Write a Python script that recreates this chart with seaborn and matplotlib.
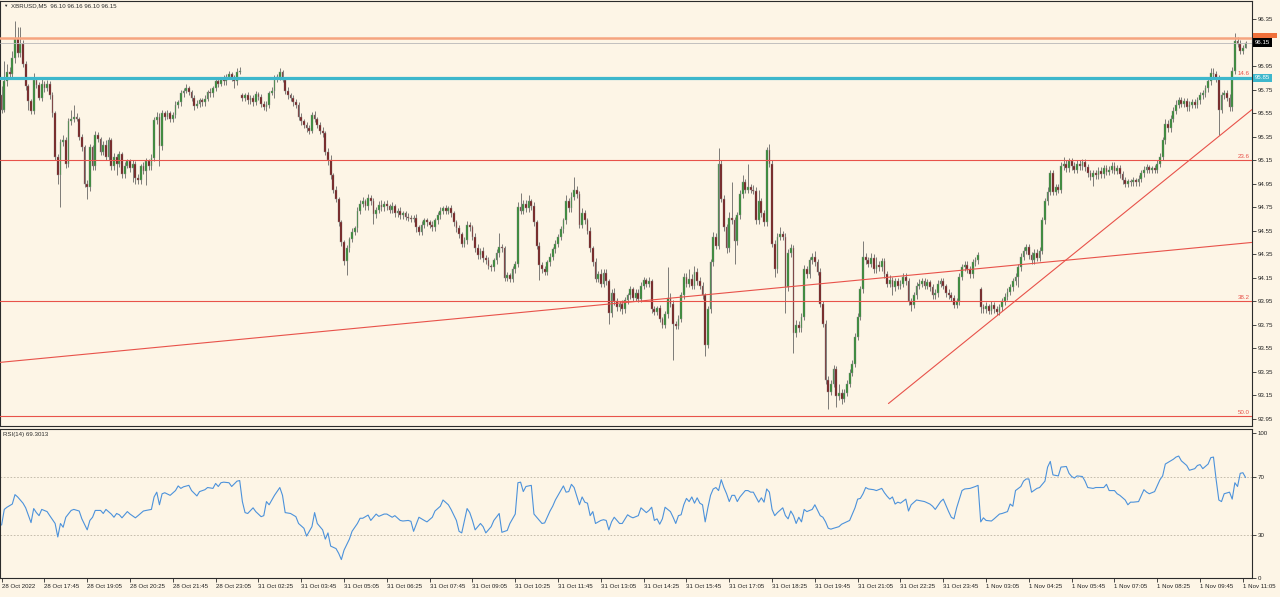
# XBRUSD M5 chart with RSI(14) sub-window, MetaTrader look

import numpy as np
import pandas as pd
import matplotlib
matplotlib.use("Agg")
import matplotlib.pyplot as plt
import matplotlib.transforms as mtransforms
from matplotlib.patches import Rectangle
import seaborn as sns

#-----------------------------------------------------------------
# values (one candle per 5 minutes)

closes = [
    95.58, 95.82, 95.90, 95.88, 96.02, 96.18, 96.06, 96.14, 95.97, 95.78,
    95.65, 95.57, 95.83, 95.79, 95.68, 95.80, 95.76, 95.80, 95.70, 95.55,
    95.18, 95.02, 95.30, 95.32, 95.12, 95.48, 95.50, 95.52, 95.50, 95.35,
    95.26, 94.95, 94.92, 95.26, 95.10, 95.36, 95.33, 95.22, 95.28, 95.18,
    95.32, 95.10, 95.18, 95.12, 95.20, 95.03, 95.10, 95.14, 95.08, 95.12,
    95.00, 94.98, 95.10, 95.06, 95.14, 95.10, 95.17, 95.49, 95.52, 95.27,
    95.55, 95.52, 95.55, 95.50, 95.53, 95.62, 95.64, 95.72, 95.74, 95.76,
    95.73, 95.68, 95.61, 95.63, 95.66, 95.64, 95.67, 95.73, 95.72, 95.76,
    95.82, 95.80, 95.84, 95.82, 95.86, 95.88, 95.85, 95.82, 95.90, 95.91,
    95.68, 95.70, 95.66, 95.68, 95.64, 95.71, 95.69, 95.63, 95.60, 95.62,
    95.72, 95.74, 95.84, 95.86, 95.90, 95.83, 95.74, 95.70, 95.68, 95.64,
    95.62, 95.52, 95.48, 95.45, 95.42, 95.40, 95.53, 95.50, 95.45, 95.40,
    95.38, 95.22, 95.15, 95.02, 94.90, 94.82, 94.62, 94.45, 94.29, 94.40,
    94.48, 94.54, 94.57, 94.72, 94.78, 94.80, 94.76, 94.83, 94.80, 94.69,
    94.73, 94.77, 94.75, 94.78, 94.76, 94.73, 94.76, 94.70, 94.72, 94.68,
    94.70, 94.67, 94.66, 94.65, 94.66, 94.58, 94.54, 94.60, 94.64, 94.62,
    94.60, 94.58, 94.64, 94.68, 94.72, 94.74, 94.72, 94.74, 94.70, 94.62,
    94.57, 94.52, 94.44, 94.47, 94.60, 94.58, 94.50, 94.40, 94.34, 94.38,
    94.32, 94.30, 94.25, 94.24, 94.30, 94.36, 94.41, 94.40, 94.15, 94.17,
    94.14, 94.22, 94.27, 94.75, 94.72, 94.78, 94.74, 94.80, 94.76, 94.62,
    94.42, 94.26, 94.22, 94.20, 94.28, 94.33, 94.39, 94.44, 94.50, 94.56,
    94.64, 94.80, 94.74, 94.84, 94.90, 94.86, 94.60, 94.70, 94.64, 94.55,
    94.40, 94.28, 94.14, 94.18, 94.10, 94.19, 94.12, 93.85, 94.02, 93.95,
    93.90, 93.93, 93.88, 93.96, 94.00, 94.05, 93.98, 94.02, 93.97, 94.08,
    94.13, 94.10, 94.12, 93.88, 93.86, 93.89, 93.80, 93.75, 93.84, 93.98,
    93.93, 93.76, 93.74, 93.80, 94.00, 94.16, 94.10, 94.14, 94.08, 94.20,
    94.12, 94.08, 94.00, 93.58, 93.88, 94.28, 94.50, 94.42, 95.12, 94.82,
    94.58, 94.40, 94.66, 94.64, 94.46, 94.68, 94.86, 94.96, 94.90, 94.92,
    94.90, 94.89, 94.64, 94.80, 94.70, 94.62, 95.24, 95.12, 94.44, 94.22,
    94.50, 94.52, 94.50, 94.07, 94.36, 94.40, 93.68, 93.75, 93.72, 93.82,
    94.22, 94.18, 94.30, 94.33, 94.28, 94.20, 93.93, 93.76, 93.28, 93.18,
    93.25, 93.37, 93.14, 93.17, 93.12, 93.17, 93.25, 93.34, 93.42, 93.65,
    93.82, 94.05, 94.33, 94.30, 94.27, 94.32, 94.22, 94.26, 94.24, 94.29,
    94.18, 94.10, 94.13, 94.07, 94.12, 94.08, 94.10, 94.16, 94.12, 93.95,
    93.92, 94.00, 94.08, 94.10, 94.12, 94.08, 94.11, 94.07, 94.00, 94.02,
    94.10, 94.12, 94.08, 94.02, 94.00, 93.98, 93.92, 93.95, 94.16, 94.24,
    94.26, 94.22, 94.18, 94.28, 94.30, 94.34, 93.90, 93.88, 93.91, 93.87,
    93.92, 93.88, 93.86, 93.90, 93.95, 93.99, 94.03, 94.07, 94.12, 94.16,
    94.24, 94.33, 94.38, 94.41, 94.34, 94.30, 94.36, 94.32, 94.38, 94.64,
    94.80, 94.88, 95.04, 94.88, 94.92, 94.90, 95.10, 95.12, 95.08, 95.14,
    95.10, 95.07, 95.12, 95.10, 95.13, 95.09, 95.04, 95.01, 95.04, 95.02,
    95.06, 95.03, 95.08, 95.05, 95.07, 95.10, 95.06, 95.08, 95.03, 94.98,
    94.95, 94.97, 94.96, 94.98, 94.96, 94.99, 95.04, 95.07, 95.09, 95.07,
    95.08, 95.07, 95.12, 95.18, 95.32, 95.46, 95.42, 95.50, 95.57, 95.62,
    95.66, 95.63, 95.65, 95.60, 95.62, 95.64, 95.62, 95.66, 95.70, 95.72,
    95.76, 95.82, 95.89, 95.88, 95.84, 95.58, 95.70, 95.72, 95.68, 95.60,
    95.91, 96.16, 96.14, 96.08, 96.10, 96.15,
]

# wick length beyond the body, in cents
up_wick = [
    8, 17, 7, 4, 6, 15, 10, 14, 3, 2,
    2, 2, 6, 3, 2, 4, 2, 3, 2, 3,
    2, 2, 3, 4, 3, 3, 8, 10, 3, 2,
    2, 2, 3, 3, 2, 4, 3, 2, 3, 4,
    3, 2, 3, 2, 3, 2, 3, 2, 2, 3,
    2, 3, 2, 3, 3, 2, 3, 3, 4, 3,
    3, 2, 3, 2, 3, 3, 2, 3, 2, 4,
    2, 2, 2, 3, 2, 2, 3, 2, 3, 2,
    3, 2, 2, 3, 2, 3, 2, 2, 3, 3,
    2, 2, 3, 2, 2, 3, 2, 2, 2, 3,
    2, 3, 3, 2, 3, 2, 2, 3, 2, 2,
    3, 2, 3, 2, 2, 3, 3, 4, 2, 2,
    3, 2, 3, 4, 2, 3, 2, 2, 2, 3,
    2, 3, 2, 3, 3, 4, 2, 3, 2, 3,
    2, 3, 4, 2, 3, 2, 3, 2, 2, 3,
    2, 2, 3, 2, 2, 3, 2, 3, 2, 2,
    2, 3, 2, 3, 3, 2, 3, 2, 3, 2,
    2, 3, 2, 3, 3, 2, 2, 3, 4, 2,
    3, 2, 3, 2, 2, 3, 12, 3, 2, 3,
    2, 3, 2, 4, 12, 3, 3, 5, 2, 3,
    2, 3, 2, 3, 2, 3, 2, 3, 2, 3,
    2, 5, 3, 4, 11, 3, 3, 4, 3, 2,
    3, 2, 4, 3, 4, 3, 3, 2, 3, 4,
    3, 2, 3, 3, 2, 3, 2, 3, 3, 3,
    3, 2, 4, 2, 3, 2, 3, 2, 3, 26,
    4, 3, 2, 3, 3, 3, 3, 8, 4, 5,
    3, 4, 3, 2, 3, 3, 4, 3, 13, 3,
    3, 3, 5, 30, 3, 3, 4, 6, 3, 20,
    3, 4, 3, 10, 3, 3, 2, 5, 3, 3,
    3, 6, 3, 3, 3, 4, 3, 4, 3, 3,
    4, 3, 3, 3, 5, 3, 3, 2, 3, 3,
    3, 4, 3, 8, 3, 3, 3, 3, 3, 3,
    3, 3, 13, 3, 3, 4, 3, 7, 3, 3,
    3, 3, 4, 3, 3, 3, 3, 3, 3, 3,
    3, 3, 3, 4, 3, 3, 3, 2, 3, 3,
    3, 3, 3, 2, 3, 3, 2, 3, 3, 3,
    3, 3, 3, 3, 3, 3, 2, 3, 3, 2,
    3, 2, 3, 3, 3, 3, 3, 3, 3, 3,
    3, 3, 3, 3, 3, 3, 3, 3, 3, 3,
    3, 4, 3, 3, 3, 3, 3, 6, 3, 3,
    3, 3, 3, 3, 3, 3, 3, 3, 3, 3,
    3, 3, 3, 3, 3, 3, 3, 3, 3, 3,
    3, 2, 2, 3, 2, 3, 3, 3, 3, 2,
    2, 3, 3, 3, 3, 4, 3, 3, 3, 4,
    3, 3, 3, 3, 3, 3, 3, 3, 3, 3,
    3, 3, 4, 4, 3, 3, 3, 3, 3, 3,
    3, 7, 4, 3, 3, 1,
]

down_wick = [
    3, 2, 4, 3, 3, 4, 3, 3, 3, 3,
    7, 3, 3, 3, 2, 3, 3, 2, 3, 3,
    3, 7, 27, 3, 4, 3, 3, 3, 2, 3,
    3, 3, 10, 3, 3, 3, 3, 3, 3, 3,
    3, 3, 3, 10, 3, 3, 3, 2, 3, 12,
    5, 3, 3, 3, 12, 3, 3, 3, 3, 17,
    3, 3, 2, 3, 3, 2, 3, 3, 3, 2,
    3, 3, 3, 2, 3, 3, 3, 2, 3, 3,
    2, 3, 2, 3, 3, 2, 3, 6, 3, 2,
    3, 3, 3, 3, 3, 2, 3, 3, 2, 3,
    3, 2, 6, 3, 3, 2, 3, 3, 3, 3,
    3, 3, 3, 3, 3, 3, 2, 3, 3, 3,
    3, 3, 4, 3, 3, 3, 3, 3, 3, 12,
    3, 3, 3, 3, 3, 3, 3, 3, 3, 8,
    3, 3, 3, 3, 3, 3, 3, 3, 3, 3,
    3, 3, 3, 3, 3, 4, 3, 3, 3, 3,
    3, 3, 3, 3, 3, 3, 3, 3, 3, 3,
    3, 3, 3, 3, 3, 3, 3, 3, 3, 3,
    4, 3, 3, 3, 3, 3, 3, 3, 3, 3,
    3, 3, 3, 3, 3, 3, 3, 3, 3, 3,
    3, 13, 3, 3, 3, 3, 3, 3, 3, 3,
    3, 3, 3, 3, 3, 3, 3, 3, 3, 3,
    3, 3, 3, 3, 3, 3, 3, 9, 3, 3,
    3, 3, 4, 3, 3, 3, 3, 3, 3, 3,
    3, 3, 3, 3, 3, 3, 3, 3, 3, 3,
    3, 31, 3, 3, 3, 3, 3, 3, 3, 3,
    3, 3, 3, 10, 3, 3, 3, 3, 3, 3,
    3, 4, 3, 3, 19, 3, 3, 3, 3, 3,
    3, 3, 3, 3, 3, 3, 3, 3, 3, 6,
    3, 3, 3, 22, 3, 3, 17, 3, 3, 3,
    3, 3, 3, 3, 3, 3, 3, 3, 3, 15,
    3, 3, 9, 3, 4, 3, 3, 3, 3, 3,
    3, 3, 3, 3, 3, 3, 3, 3, 3, 3,
    3, 3, 3, 7, 3, 3, 3, 3, 3, 3,
    5, 3, 3, 3, 3, 3, 3, 3, 3, 3,
    3, 3, 3, 3, 3, 3, 3, 3, 3, 3,
    3, 3, 3, 3, 3, 3, 5, 3, 3, 3,
    3, 3, 3, 3, 3, 3, 3, 3, 3, 3,
    9, 3, 3, 3, 3, 3, 3, 3, 3, 3,
    3, 3, 3, 3, 3, 3, 3, 3, 3, 3,
    3, 3, 3, 3, 3, 3, 3, 3, 8, 3,
    3, 3, 3, 3, 3, 3, 3, 3, 3, 3,
    3, 3, 3, 3, 3, 3, 3, 3, 3, 3,
    3, 3, 3, 3, 3, 3, 3, 3, 3, 3,
    3, 3, 3, 3, 3, 3, 3, 3, 3, 3,
    3, 3, 3, 3, 3, 22, 3, 3, 3, 3,
    3, 3, 3, 3, 3, 0,
]

# bars whose open is not the previous close (start, weekend, session break)
gap_opens = {0: 95.70, 90: 95.70, 366: 94.05}

rsi_bars = [
    0, 1, 2, 4, 5, 6, 8, 9, 11, 12, 13, 14, 15, 17, 18, 20, 21, 22, 23, 24,
    26, 27, 29, 30, 32, 33, 34, 35, 37, 38, 39, 41, 42, 43, 44, 45, 47, 48, 50, 51,
    53, 54, 56, 57, 58, 59, 60, 61, 63, 65, 66, 67, 68, 70, 71, 73, 74, 76, 77, 79,
    80, 81, 82, 83, 85, 86, 88, 89, 90, 91, 92, 94, 95, 97, 98, 99, 100, 102, 104, 105,
    106, 108, 110, 111, 113, 114, 116, 117, 118, 120, 121, 122, 123, 125, 126, 127, 128, 130, 131, 133,
    134, 135, 137, 138, 140, 141, 143, 144, 146, 147, 149, 150, 152, 153, 154, 156, 158, 159, 161, 162,
    164, 165, 167, 168, 170, 171, 172, 174, 175, 176, 177, 179, 180, 181, 183, 184, 186, 187, 189, 190,
    192, 193, 194, 195, 196, 198, 199, 201, 202, 203, 205, 206, 207, 209, 210, 211, 212, 213, 214, 216,
    217, 218, 219, 220, 221, 222, 224, 225, 226, 227, 228, 229, 231, 232, 234, 235, 236, 238, 239, 241,
    242, 243, 244, 245, 246, 247, 248, 250, 251, 252, 253, 254, 255, 256, 257, 258, 259, 260, 261, 262,
    263, 264, 265, 266, 267, 268, 269, 270, 271, 272, 273, 274, 275, 276, 278, 279, 280, 281, 283, 284,
    285, 286, 287, 288, 289, 290, 292, 293, 294, 295, 296, 297, 298, 299, 300, 301, 303, 304, 306, 307,
    308, 309, 310, 311, 313, 314, 317, 319, 320, 321, 322, 323, 324, 326, 327, 329, 330, 331, 332, 333,
    334, 335, 336, 338, 339, 340, 342, 344, 345, 347, 348, 349, 351, 352, 354, 355, 356, 357, 359, 360,
    362, 364, 365, 366, 367, 368, 370, 371, 373, 374, 376, 377, 378, 379, 381, 382, 383, 384, 385, 387,
    388, 390, 391, 392, 393, 395, 396, 398, 399, 400, 401, 402, 404, 405, 406, 408, 409, 411, 412, 413,
    414, 416, 417, 418, 420, 421, 422, 423, 425, 427, 428, 429, 431, 433, 434, 435, 437, 438, 439, 440,
    441, 443, 444, 446, 447, 448, 449, 451, 452, 453, 454, 455, 456, 457, 459, 460, 461, 462, 463, 464,
    465,
]

rsi_values = [
    36.5, 47.3, 48.8, 51.0, 57.5, 55.9, 51.6, 48.4, 38.2, 47.9, 45.1, 43.0, 47.3, 45.8, 43.0, 37.6, 28.3, 37.6, 35.0, 41.9,
    46.6, 47.3, 46.2, 40.8, 33.2, 39.7, 41.9, 46.6, 46.6, 44.5, 47.3, 44.1, 41.9, 44.5, 43.6, 41.5, 45.8, 44.1, 41.5, 43.0,
    46.2, 46.6, 47.3, 55.9, 59.2, 50.5, 58.1, 58.8, 57.0, 60.3, 63.5, 61.8, 62.9, 63.9, 60.3, 56.6, 59.6, 60.9, 62.4, 61.8,
    65.2, 63.1, 65.7, 66.1, 65.7, 63.1, 66.8, 67.2, 52.7, 45.1, 44.5, 48.4, 45.8, 42.3, 43.0, 52.7, 50.5, 57.0, 62.4, 57.0,
    45.1, 44.5, 42.3, 37.6, 34.3, 28.9, 35.4, 45.1, 37.6, 33.2, 26.8, 31.1, 22.0, 20.3, 17.0, 12.7, 19.2, 26.8, 32.2, 37.6,
    41.2, 41.2, 43.4, 39.7, 44.1, 42.5, 44.1, 44.1, 41.9, 43.0, 39.7, 39.3, 39.7, 39.1, 32.2, 41.9, 39.7, 38.7, 41.9, 46.2,
    49.5, 53.8, 50.5, 47.3, 39.7, 32.2, 31.1, 47.9, 45.1, 39.7, 33.2, 37.6, 35.4, 31.1, 35.4, 39.7, 44.5, 31.5, 32.8, 37.6,
    44.1, 65.7, 66.1, 59.6, 63.1, 63.9, 44.1, 39.7, 37.6, 38.0, 46.2, 49.5, 53.8, 60.3, 63.5, 59.2, 59.6, 64.6, 62.4, 50.5,
    55.9, 52.3, 51.6, 43.0, 45.8, 37.6, 39.7, 40.2, 39.7, 33.2, 38.7, 41.9, 37.6, 37.6, 43.6, 42.3, 41.5, 43.0, 48.4, 45.1,
    46.6, 48.8, 39.7, 40.8, 37.1, 40.8, 48.8, 45.8, 41.9, 37.6, 43.0, 43.6, 50.5, 54.9, 52.7, 55.9, 51.6, 55.3, 51.6, 50.5,
    38.7, 48.4, 57.0, 61.4, 62.4, 60.3, 67.8, 62.4, 58.1, 52.7, 57.0, 57.0, 52.7, 55.9, 60.3, 60.3, 59.2, 59.2, 52.3, 55.3,
    52.3, 61.4, 59.2, 47.3, 43.0, 45.1, 48.4, 43.0, 40.8, 46.2, 43.0, 37.6, 41.9, 38.7, 47.3, 45.8, 47.3, 50.5, 43.0, 41.9,
    38.7, 34.3, 33.7, 34.3, 35.4, 37.1, 39.7, 48.4, 54.4, 54.9, 58.1, 62.4, 61.4, 60.9, 60.3, 61.8, 58.8, 56.4, 54.4, 55.9,
    51.0, 52.3, 51.6, 54.4, 46.2, 50.5, 53.8, 53.1, 52.7, 51.0, 49.5, 47.3, 52.7, 54.4, 45.8, 41.9, 40.8, 48.4, 60.3, 61.4,
    61.8, 63.1, 63.9, 38.7, 41.5, 39.7, 39.3, 40.8, 44.1, 44.5, 45.8, 51.0, 49.5, 60.3, 63.1, 66.8, 68.3, 68.3, 59.2, 61.8,
    62.4, 66.8, 76.5, 80.4, 71.1, 70.4, 76.5, 76.9, 72.2, 70.0, 68.9, 70.4, 70.0, 66.8, 62.4, 61.8, 62.4, 62.4, 62.4, 64.6,
    60.3, 60.3, 58.1, 57.0, 53.8, 50.5, 52.3, 52.3, 52.7, 60.9, 59.2, 58.1, 59.6, 67.8, 70.4, 78.6, 80.8, 81.9, 83.4, 84.1,
    80.8, 77.6, 74.3, 75.4, 77.6, 78.2, 75.4, 78.6, 83.0, 83.4, 67.8, 53.8, 52.7, 58.1, 59.2, 54.4, 65.7, 63.1, 72.2, 72.6,
    69.3,
]

price_ticks = [96.35, 96.15, 95.95, 95.75, 95.55, 95.35, 95.15, 94.95, 94.75,
               94.55, 94.35, 94.15, 93.95, 93.75, 93.55, 93.35, 93.15, 92.95]

time_labels = ["28 Oct 2022", "28 Oct 17:45", "28 Oct 19:05", "28 Oct 20:25", "28 Oct 21:45",
               "28 Oct 23:05", "31 Oct 02:25", "31 Oct 03:45", "31 Oct 05:05", "31 Oct 06:25",
               "31 Oct 07:45", "31 Oct 09:05", "31 Oct 10:25", "31 Oct 11:45", "31 Oct 13:05",
               "31 Oct 14:25", "31 Oct 15:45", "31 Oct 17:05", "31 Oct 18:25", "31 Oct 19:45",
               "31 Oct 21:05", "31 Oct 22:25", "31 Oct 23:45", "1 Nov 03:05", "1 Nov 04:25",
               "1 Nov 05:45", "1 Nov 07:05", "1 Nov 08:25", "1 Nov 09:45", "1 Nov 11:05"]
bars_per_label = 16

fib_names = ["23.6", "38.2", "50.0"]
fib_prices = [95.15, 93.95, 92.97]
cyan_level = 95.85
cyan_name = "14.6"
orange_level = 96.19
bid_price = 96.15

# trend lines as (bar, price) anchor pairs
trend_lines = [[(-0.6, 93.43), (467.4, 94.45)],
               [(331.5, 93.08), (467.4, 95.58)]]

#-----------------------------------------------------------------
# build the OHLC table

df = pd.DataFrame({"close": closes})
df["open"] = df["close"].shift(1)
for bar, price in gap_opens.items():
    df.loc[bar, "open"] = price
df["high"] = df[["open", "close"]].max(axis=1) + np.array(up_wick) / 100
df["low"] = df[["open", "close"]].min(axis=1) - np.array(down_wick) / 100
df["bar"] = np.arange(len(df))
bull = df["close"] >= df["open"]
body_low = df[["open", "close"]].min(axis=1)
body_h = (df["close"] - df["open"]).abs().clip(lower=0.004)

#-----------------------------------------------------------------
# drawing

sns.set_theme(style="white")
plt.rcParams["font.family"] = ["Liberation Sans", "DejaVu Sans"]

bg = "#FDF5E6"
red = "#E8524A"
dark = "#2b2b2b"
fs = 4.4

fig = plt.figure(figsize=(12.8, 5.97), dpi=100, facecolor=bg)
ax = fig.add_axes([0, 171 / 597, 1252 / 1280, 425 / 597], facecolor=bg)
ax_rsi = fig.add_axes([0, 19 / 597, 1252 / 1280, 149 / 597], facecolor=bg)

xlim = (-0.6, 467.4)

# candles
ax.vlines(df["bar"], df["low"], df["high"], color="#5a5a5a", lw=0.55, zorder=3)
ax.bar(df["bar"][bull], body_h[bull], bottom=body_low[bull], width=0.66,
       color="#2F8A2F", edgecolor="#8f8f8f", linewidth=0.3, zorder=4)
ax.bar(df["bar"][~bull], body_h[~bull], bottom=body_low[~bull], width=0.66,
       color="#741616", edgecolor="#8f8f8f", linewidth=0.3, zorder=4)

# horizontal levels
for name, lvl in zip(fib_names, fib_prices):
    ax.axhline(lvl, color=red, lw=0.8, zorder=5)
    ax.text(466.6, lvl + 0.012, name, color=red, fontsize=fs, ha="right", va="bottom", zorder=6)
ax.axhline(cyan_level, color="#3DB7CC", lw=2.3, zorder=5)
ax.text(466.6, cyan_level + 0.012, cyan_name, color=red, fontsize=fs, ha="right", va="bottom", zorder=6)
ax.axhline(orange_level, color="#F6A47F", lw=1.8, zorder=5)
ax.axhline(bid_price, color="#B8B8B8", lw=0.6, zorder=5)

for (x0, y0), (x1, y1) in trend_lines:
    ax.plot([x0, x1], [y0, y1], color=red, lw=0.8, zorder=5)

ax.set_xlim(xlim)
ax.set_ylim(92.889, 96.503)
ax.set_xticks([])
ax.yaxis.tick_right()
ax.set_yticks(price_ticks)
# the 96.15 scale label sits under the bid box, which carries the same text
ax.set_yticklabels(["" if p == bid_price else f"{p:.2f}" for p in price_ticks])
ax.tick_params(axis="y", right=True, left=False, length=3, width=0.6, color=dark,
               labelsize=fs, pad=1, labelcolor="#222222")
for sp in ax.spines.values():
    sp.set_color(dark)
    sp.set_linewidth(0.8)

# price boxes on the scale
trans = mtransforms.blended_transform_factory(ax.transAxes, ax.transData)
box_x = 1.0 + 3 / 1252
# orange marker of the upper level, mostly hidden behind the bid box
ax.add_patch(Rectangle((1.0 + 1 / 1252, orange_level - 0.005), 24 / 1252, 0.045,
                       transform=trans, fc="#F0703A", ec="none", clip_on=False, zorder=10))
ax.text(box_x, bid_price, "96.15", transform=trans, fontsize=fs, color="white",
        ha="left", va="center", clip_on=False, zorder=11,
        bbox=dict(boxstyle="square,pad=0.25", fc="black", ec="none"))
ax.text(box_x, cyan_level, "95.85", transform=trans, fontsize=fs, color="white",
        ha="left", va="center", clip_on=False, zorder=11,
        bbox=dict(boxstyle="square,pad=0.25", fc="#3DB7CC", ec="none"))

# title
fig.text(3 / 1280, 1 - 6 / 597, "\u25bc", fontsize=3.2, color=dark, ha="left", va="center")
fig.text(11 / 1280, 1 - 6 / 597, "XBRUSD,M5  96.10 96.16 96.10 96.15", fontsize=fs,
         color=dark, ha="left", va="center")

# RSI window
sns.lineplot(x=rsi_bars, y=rsi_values, ax=ax_rsi, color="#4C92DB", lw=0.8)
for lvl in (70, 30):
    ax_rsi.axhline(lvl, color="#BDB5A5", lw=0.6, ls=(0, (2, 2)), zorder=1)
ax_rsi.set_xlim(xlim)
ax_rsi.set_ylim(0, 102.76)
ax_rsi.yaxis.tick_right()
ax_rsi.set_yticks([0, 30, 70, 100])
ax_rsi.set_yticklabels(["0", "30", "70", "100"])
ax_rsi.tick_params(axis="y", right=True, left=False, length=3, width=0.6, color=dark,
                   labelsize=fs, pad=1, labelcolor="#222222")
label_bars = [k * bars_per_label for k in range(len(time_labels))]
ax_rsi.set_xticks(label_bars)
ax_rsi.set_xticklabels(time_labels, ha="left")
ax_rsi.tick_params(axis="x", bottom=True, length=3, width=0.6, color=dark,
                   labelsize=fs, pad=1.5, labelcolor="#222222")
ax_rsi.set_xlabel("")
ax_rsi.set_ylabel("")
for sp in ax_rsi.spines.values():
    sp.set_color(dark)
    sp.set_linewidth(0.8)
ax_rsi.text(3 / 1252, 0.965, "RSI(14) 69.3013", transform=ax_rsi.transAxes, fontsize=fs,
            color=dark, ha="left", va="center")

fig.savefig("out.png", dpi=100, facecolor=bg)
